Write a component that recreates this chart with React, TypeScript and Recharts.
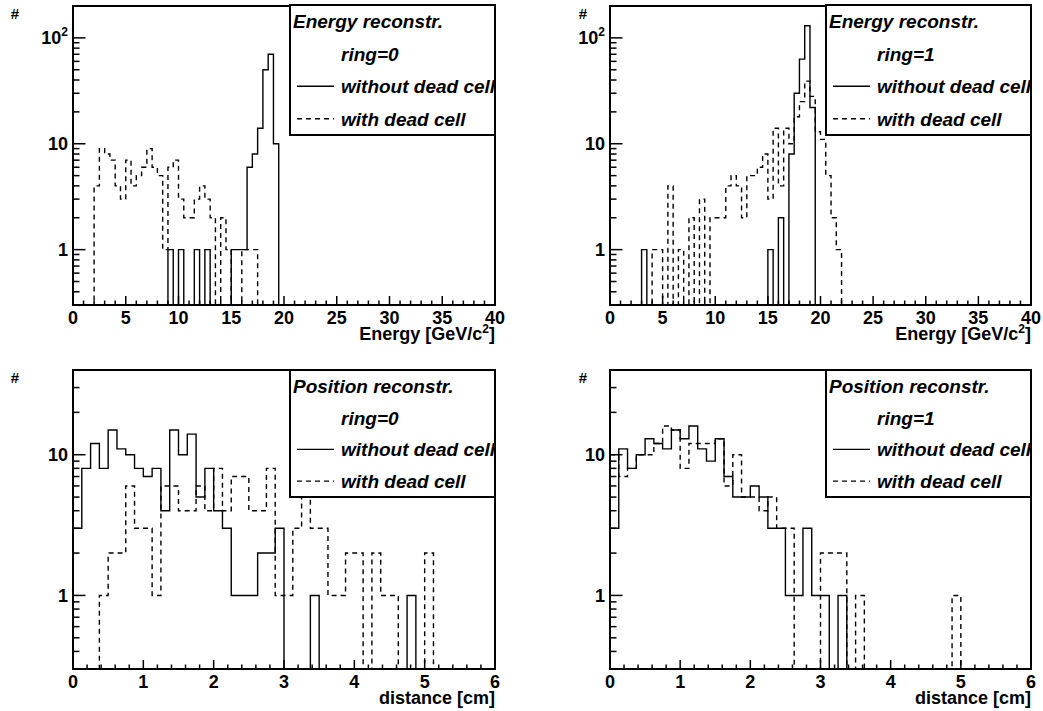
import React from 'react';
import { ComposedChart, Line, XAxis, YAxis, ReferenceArea } from 'recharts';

const FONT = '"Liberation Sans", Arial, Helvetica, sans-serif';

// Energy spectra, 0.5 GeV bins; each list starts at the given bin low edge
const energyBin = 0.5;
const energyRing0WithoutStart = 9;
const energyRing0Without = [1, 0, 1, 0, 0, 1, 0, 1, 0, 0, 0, 0, 1, 1, 1, 6, 8, 14, 50, 70, 10];
const energyRing0WithStart = 2;
const energyRing0With = [
  4, 9, 8, 7, 4, 3, 7, 4, 5, 6, 9, 6, 5, 1, 6, 7, 3, 2, 2, 3, 4, 3, 2, 0, 2, 1, 0, 0, 1, 1, 1,
];
const energyRing1WithoutStart = 3;
const energyRing1Without = [
  1, 0, 0, 0, 0, 0, 0, 0, 0, 0, 0, 0, 0, 0, 0, 0, 0, 0, 0, 0, 0, 0, 0, 0, 1, 0, 2, 0, 8, 30, 63,
  130, 22,
];
const energyRing1WithStart = 4;
const energyRing1With = [
  1, 1, 0, 4, 0, 1, 0, 2, 0, 3, 0, 2, 2, 2, 4, 5, 4, 2, 5, 5, 6, 8, 3, 14, 4, 14, 10, 18, 25, 39,
  28, 13, 11, 5, 2, 1,
];

// Distance between true and reconstructed position, 0.125 cm bins from 0
const distanceBin = 0.125;
const distanceRing0Without = [
  3, 8, 12, 8, 15, 11, 10, 8, 7, 8, 4, 15, 10, 14, 5, 8, 4, 3, 1, 1, 1, 2, 2, 3, 0, 0, 0, 1, 0, 0,
  0, 0, 0, 0, 0, 0, 0, 0, 1,
];
const distanceRing0With = [
  0, 0, 0, 1, 2, 2, 6, 3, 3, 1, 6, 6, 4, 4, 6, 4, 8, 4, 7, 7, 4, 4, 8, 1, 1, 3, 6, 3, 3, 1, 1, 2,
  2, 0, 2, 1, 1, 0, 0, 0, 2,
];
const distanceRing1Without = [
  3, 11, 8, 10, 13, 12, 11, 15, 13, 16, 11, 9, 13, 7, 5, 5, 6, 5, 3, 3, 1, 1, 3, 1, 1, 0, 1,
];
const distanceRing1With = [
  10, 7, 8, 10, 10, 12, 16, 15, 8, 12, 12, 12, 13, 6, 10, 5, 5, 4, 5, 3, 3, 0, 0, 0, 2, 2, 2, 0, 1,
  0, 0, 0, 0, 0, 0, 0, 0, 0, 0, 1,
];

const energyTickLabels = [0, 5, 10, 15, 20, 25, 30, 35, 40];
const distanceTickLabels = [0, 1, 2, 3, 4, 5, 6];
const energyDecades = [1, 10, 100];
const distanceDecades = [1, 10];

// empty bins are pushed below the log axis floor and clipped away
const EMPTY = 0.05;

function stepPoints(lo: number, hi: number, width: number, start: number, counts: number[]) {
  const pts = [{ x: lo, y: EMPTY }];
  counts.forEach((c, i) => pts.push({ x: start + i * width, y: c > 0 ? c : EMPTY }));
  pts.push({ x: start + counts.length * width, y: EMPTY });
  pts.push({ x: hi, y: EMPTY });
  return pts;
}

function linearTicks(labels: number[], step: number) {
  const lo = labels[0];
  const hi = labels[labels.length - 1];
  const n = Math.round((hi - lo) / step);
  return Array.from({ length: n + 1 }, (_, i) => +(lo + i * step).toFixed(4));
}

function logTicks(lo: number, hi: number) {
  const out: number[] = [];
  [0.1, 1, 10, 100].forEach((d) => {
    for (let k = 1; k <= 9; k++) {
      const v = +(k * d).toPrecision(3);
      if (v > lo && v < hi) out.push(v);
    }
  });
  return out;
}

const near = (list: number[], v: number) => list.some((m) => Math.abs(m - v) < 1e-6);

const makeXTick = (labels: number[]) => (props: any) => {
  const { x, y, payload } = props;
  const major = near(labels, payload.value);
  return (
    <g>
      <line x1={x} x2={x} y1={y} y2={y - (major ? 9 : 4.5)} stroke="#000" strokeWidth={1.5} />
      {major && (
        <text x={x} y={y + 19} textAnchor="middle" fontFamily={FONT} fontWeight="bold" fontSize={18} fill="#000">
          {payload.value}
        </text>
      )}
    </g>
  );
};

const makeYTick = (decades: number[]) => (props: any) => {
  const { x, y, payload } = props;
  const v = payload.value;
  const major = near(decades, v);
  return (
    <g>
      <line x1={x} x2={x + (major ? 12.5 : 6.5)} y1={y} y2={y} stroke="#000" strokeWidth={1.5} />
      {major && (
        <text x={x - 5} y={y + 6.5} textAnchor="end" fontFamily={FONT} fontWeight="bold" fontSize={18} fill="#000">
          {v === 100 ? (
            <>
              10
              <tspan dy={-8} fontSize={12}>
                2
              </tspan>
            </>
          ) : (
            v
          )}
        </text>
      )}
    </g>
  );
};

type Hist = { start: number; counts: number[] };

interface PanelDef {
  id: string;
  pad: { x: number; y: number; w: number; h: number };
  frame: { x0: number; y0: number; x1: number; y1: number };
  xDomain: [number, number];
  yDomain: [number, number];
  xLabels: number[];
  xMinorStep: number;
  decades: number[];
  bin: number;
  solid: Hist;
  dashed: Hist;
  legend: { x: number; y: number; w: number; h: number; title: string; ring: string };
  axis: 'energy' | 'distance';
  hash: { x: number; y: number };
}

const panels: PanelDef[] = [
  {
    id: 'e0',
    pad: { x: 0, y: 0, w: 521, h: 355 },
    frame: { x0: 73, y0: 6, x1: 495, y1: 305 },
    xDomain: [0, 40],
    yDomain: [0.3, 200],
    xLabels: energyTickLabels,
    xMinorStep: 1,
    decades: energyDecades,
    bin: energyBin,
    solid: { start: energyRing0WithoutStart, counts: energyRing0Without },
    dashed: { start: energyRing0WithStart, counts: energyRing0With },
    legend: { x: 290, y: 5, w: 205, h: 130, title: 'Energy reconstr.', ring: 'ring=0' },
    axis: 'energy',
    hash: { x: 15, y: 19 },
  },
  {
    id: 'e1',
    pad: { x: 521, y: 0, w: 522, h: 355 },
    frame: { x0: 610, y0: 6, x1: 1031, y1: 305 },
    xDomain: [0, 40],
    yDomain: [0.3, 200],
    xLabels: energyTickLabels,
    xMinorStep: 1,
    decades: energyDecades,
    bin: energyBin,
    solid: { start: energyRing1WithoutStart, counts: energyRing1Without },
    dashed: { start: energyRing1WithStart, counts: energyRing1With },
    legend: { x: 826, y: 5, w: 205, h: 130, title: 'Energy reconstr.', ring: 'ring=1' },
    axis: 'energy',
    hash: { x: 583, y: 19 },
  },
  {
    id: 'd0',
    pad: { x: 0, y: 355, w: 521, h: 356 },
    frame: { x0: 73, y0: 370, x1: 495, y1: 669 },
    xDomain: [0, 6],
    yDomain: [0.3, 40],
    xLabels: distanceTickLabels,
    xMinorStep: 0.2,
    decades: distanceDecades,
    bin: distanceBin,
    solid: { start: 0, counts: distanceRing0Without },
    dashed: { start: 0, counts: distanceRing0With },
    legend: { x: 290, y: 370, w: 205, h: 127, title: 'Position reconstr.', ring: 'ring=0' },
    axis: 'distance',
    hash: { x: 15, y: 383 },
  },
  {
    id: 'd1',
    pad: { x: 521, y: 355, w: 522, h: 356 },
    frame: { x0: 610, y0: 370, x1: 1031, y1: 669 },
    xDomain: [0, 6],
    yDomain: [0.3, 40],
    xLabels: distanceTickLabels,
    xMinorStep: 0.2,
    decades: distanceDecades,
    bin: distanceBin,
    solid: { start: 0, counts: distanceRing1Without },
    dashed: { start: 0, counts: distanceRing1With },
    legend: { x: 826, y: 370, w: 205, h: 127, title: 'Position reconstr.', ring: 'ring=1' },
    axis: 'distance',
    hash: { x: 583, y: 383 },
  },
];

const Y_AXIS_W = 50;
const X_AXIS_H = 30;

function Panel({ p }: { p: PanelDef }) {
  const [lo, hi] = p.xDomain;
  const margin = {
    top: p.frame.y0 - p.pad.y,
    left: p.frame.x0 - p.pad.x - Y_AXIS_W,
    right: p.pad.x + p.pad.w - p.frame.x1,
    bottom: p.pad.y + p.pad.h - p.frame.y1 - X_AXIS_H,
  };
  const solidPts = stepPoints(lo, hi, p.bin, p.solid.start, p.solid.counts);
  const dashedPts = stepPoints(lo, hi, p.bin, p.dashed.start, p.dashed.counts);
  return (
    <div style={{ position: 'absolute', left: p.pad.x, top: p.pad.y }}>
      <ComposedChart width={p.pad.w} height={p.pad.h} margin={margin}>
        <XAxis
          type="number"
          dataKey="x"
          domain={p.xDomain}
          allowDataOverflow
          ticks={linearTicks(p.xLabels, p.xMinorStep)}
          interval={0}
          tick={makeXTick(p.xLabels)}
          tickLine={false}
          axisLine={false}
          tickSize={0}
          tickMargin={0}
          height={X_AXIS_H}
        />
        <YAxis
          type="number"
          scale="log"
          domain={p.yDomain}
          allowDataOverflow
          ticks={logTicks(p.yDomain[0], p.yDomain[1])}
          interval={0}
          tick={makeYTick(p.decades)}
          tickLine={false}
          axisLine={false}
          tickSize={0}
          tickMargin={0}
          width={Y_AXIS_W}
        />
        <ReferenceArea
          x1={lo}
          x2={hi}
          y1={p.yDomain[0]}
          y2={p.yDomain[1]}
          fill="none"
          stroke="#000"
          strokeWidth={2}
          ifOverflow="visible"
        />
        <Line
          data={dashedPts}
          dataKey="y"
          type="stepAfter"
          stroke="#000"
          strokeWidth={1.4}
          strokeDasharray="5 4"
          dot={false}
          activeDot={false}
          isAnimationActive={false}
        />
        <Line
          data={solidPts}
          dataKey="y"
          type="stepAfter"
          stroke="#000"
          strokeWidth={1.4}
          dot={false}
          activeDot={false}
          isAnimationActive={false}
        />
      </ComposedChart>
    </div>
  );
}

function LegendBox({ p }: { p: PanelDef }) {
  const { x, y, w, h, title, ring } = p.legend;
  const row = (k: number) => y + (h * (2 * k + 1)) / 8;
  const clipId = `legend-clip-${p.id}`;
  const textStyle = { fontFamily: FONT, fontWeight: 'bold' as const, fontStyle: 'italic' as const, fontSize: 19 };
  return (
    <g>
      <defs>
        <clipPath id={clipId}>
          <rect x={x} y={y} width={w} height={h} />
        </clipPath>
      </defs>
      <rect x={x} y={y} width={w} height={h} fill="#fff" stroke="#000" strokeWidth={2} />
      <g clipPath={`url(#${clipId})`} fill="#000" style={textStyle}>
        <text x={x + 3} y={row(0) + 7}>{title}</text>
        <text x={x + 51} y={row(1) + 7}>{ring}</text>
        <line x1={x + 7} x2={x + 44} y1={row(2)} y2={row(2)} stroke="#000" strokeWidth={1.4} />
        <text x={x + 51} y={row(2) + 7}>without dead cell</text>
        <line x1={x + 7} x2={x + 44} y1={row(3)} y2={row(3)} stroke="#000" strokeWidth={1.4} strokeDasharray="5 4" />
        <text x={x + 51} y={row(3) + 7}>with dead cell</text>
      </g>
    </g>
  );
}

function AxisTitle({ p }: { p: PanelDef }) {
  const common = {
    x: p.frame.x1,
    y: p.frame.y1 + 35,
    textAnchor: 'end' as const,
    fontFamily: FONT,
    fontWeight: 'bold',
    fontSize: 18,
    fill: '#000',
  };
  if (p.axis === 'energy') {
    return (
      <text {...common}>
        Energy [GeV/c
        <tspan dy={-7} fontSize={12}>
          2
        </tspan>
        <tspan dy={7}>]</tspan>
      </text>
    );
  }
  return <text {...common}>distance [cm]</text>;
}

export default function App() {
  return (
    <div style={{ position: 'absolute', left: 0, top: 0, width: 1043, height: 711, background: '#fff' }}>
      {panels.map((p) => (
        <Panel key={p.id} p={p} />
      ))}
      <svg width={1043} height={711} style={{ position: 'absolute', left: 0, top: 0, pointerEvents: 'none' }}>
        {panels.map((p) => (
          <g key={p.id}>
            <text x={p.hash.x} y={p.hash.y} textAnchor="middle" fontFamily={FONT} fontWeight="bold" fontSize={15} fill="#000">
              #
            </text>
            <AxisTitle p={p} />
            <LegendBox p={p} />
          </g>
        ))}
      </svg>
    </div>
  );
}
